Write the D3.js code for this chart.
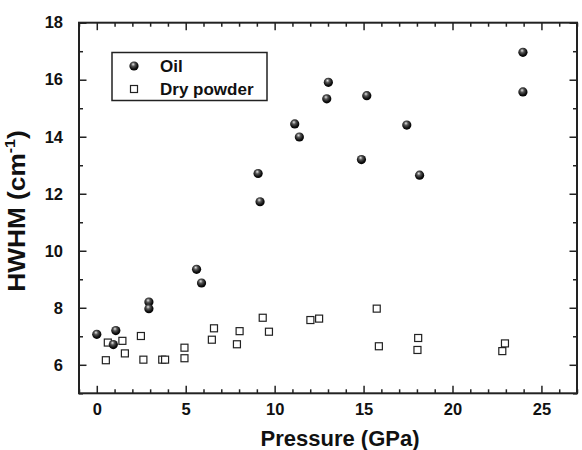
<!DOCTYPE html>
<html><head><meta charset="utf-8">
<script src="https://cdn.jsdelivr.net/npm/d3@7"></script>
<style>body{margin:0;background:#fff}svg{display:block}text{font-family:"Liberation Sans",Arial,Helvetica,sans-serif;font-weight:bold;fill:#111}</style>
</head><body>
<svg id="c" width="582" height="450"></svg>
<script>
// Oil series
const oilP = [0.0, 1.07, 0.93, 2.93, 2.93, 5.61, 5.89, 9.18, 9.07, 11.13, 11.39, 13.02, 12.93, 15.18, 14.88, 17.43, 18.15, 23.96, 23.96];
const oilW = [7.07, 7.20, 6.71, 8.20, 7.97, 9.35, 8.87, 11.72, 12.71, 14.45, 13.99, 15.91, 15.33, 15.44, 13.20, 14.41, 12.65, 16.96, 15.57];
// Dry powder series
const dryP = [0.51, 0.62, 1.44, 1.58, 2.48, 2.62, 3.68, 3.84, 4.93, 4.93, 6.59, 6.47, 8.03, 7.88, 9.33, 9.68, 12.01, 12.5, 15.74, 15.86, 18.07, 18.03, 22.95, 22.8];
const dryW = [6.16, 6.78, 6.84, 6.40, 7.01, 6.18, 6.18, 6.18, 6.23, 6.60, 7.28, 6.88, 7.18, 6.72, 7.65, 7.16, 7.57, 7.62, 7.97, 6.65, 6.94, 6.52, 6.75, 6.48];
const xTicks = [0, 5, 10, 15, 20, 25];
const yTicks = [6, 8, 10, 12, 14, 16, 18];
const seriesNames = ["Oil", "Dry powder"];

const svg = d3.select("#c");
const L = 79, R = 577, T = 22.7, B = 393.3;
const x = d3.scaleLinear().domain([-1, 27]).range([L, R]);
const y = d3.scaleLinear().domain([5, 18]).range([B, T]);

const defs = svg.append("defs");
const g = defs.append("radialGradient").attr("id", "ball").attr("cx", "45%").attr("cy", "40%").attr("r", "60%").attr("fx", "40%").attr("fy", "30%");
g.append("stop").attr("offset", "0%").attr("stop-color", "#e8e8e8");
g.append("stop").attr("offset", "35%").attr("stop-color", "#555");
g.append("stop").attr("offset", "75%").attr("stop-color", "#111");
g.append("stop").attr("offset", "100%").attr("stop-color", "#000");

const ax = "#222";
const minorX = d3.range(-1, 28, 1);
const minorY = d3.range(5, 19, 1);
function addAxis(axisGen, tx, ty) {
  return svg.append("g").attr("transform", `translate(${tx},${ty})`).call(axisGen);
}
addAxis(d3.axisTop(x).tickValues(minorX.filter(v => v % 5 !== 0)).tickSize(4).tickFormat(""), 0, B);
addAxis(d3.axisTop(x).tickValues(xTicks).tickSize(7.5).tickFormat(""), 0, B);
addAxis(d3.axisBottom(x).tickValues(minorX.filter(v => v % 5 !== 0)).tickSize(4).tickFormat(""), 0, T);
addAxis(d3.axisBottom(x).tickValues(xTicks).tickSize(7.5).tickFormat(""), 0, T);
addAxis(d3.axisRight(y).tickValues(minorY.filter(v => v % 2 !== 0)).tickSize(4).tickFormat(""), L, 0);
addAxis(d3.axisRight(y).tickValues(yTicks).tickSize(7.5).tickFormat(""), L, 0);
addAxis(d3.axisLeft(y).tickValues(minorY.filter(v => v % 2 !== 0)).tickSize(4).tickFormat(""), R, 0);
addAxis(d3.axisLeft(y).tickValues(yTicks).tickSize(7.5).tickFormat(""), R, 0);
svg.selectAll(".domain").remove();
svg.selectAll(".tick line").attr("stroke", ax).attr("stroke-width", 1.5);
svg.append("rect").attr("x", L).attr("y", T).attr("width", R - L).attr("height", B - T)
  .attr("fill", "none").attr("stroke", ax).attr("stroke-width", 2);

// tick labels
const xl = addAxis(d3.axisBottom(x).tickValues(xTicks).tickSize(0).tickPadding(10), 0, B);
xl.select(".domain").remove();
xl.selectAll("text").attr("font-size", 16.5).attr("fill", "#111").style("font-family", "'Liberation Sans',Arial,sans-serif").style("font-weight", "bold");
const yl = addAxis(d3.axisLeft(y).tickValues(yTicks).tickSize(0).tickPadding(16), L, 0);
yl.select(".domain").remove();
yl.selectAll("text").attr("font-size", 16.5).attr("fill", "#111").style("font-family", "'Liberation Sans',Arial,sans-serif").style("font-weight", "bold");

// axis titles
svg.append("text").attr("x", 340).attr("y", 446).attr("text-anchor", "middle").attr("font-size", 22).text("Pressure (GPa)");
const yt = svg.append("text").attr("transform", `translate(25,211) rotate(-90) scale(1.14,1)`).attr("text-anchor", "middle").attr("font-size", 23);
yt.append("tspan").text("HWHM (cm");
yt.append("tspan").attr("font-size", 14).attr("dy", -10).text("-1");
yt.append("tspan").attr("dy", 10).text(")");

// data marks
svg.append("g").selectAll("rect").data(dryP.map((p, i) => [p, dryW[i]])).join("rect")
  .attr("x", d => x(d[0]) - 3.5).attr("y", d => y(d[1]) - 3.5).attr("width", 7).attr("height", 7)
  .attr("fill", "#fff").attr("stroke", "#222").attr("stroke-width", 1.2);
svg.append("g").selectAll("circle").data(oilP.map((p, i) => [p, oilW[i]])).join("circle")
  .attr("cx", d => x(d[0])).attr("cy", d => y(d[1])).attr("r", 4.6).attr("fill", "url(#ball)");

// legend
const lg = svg.append("g");
lg.append("rect").attr("x", 112).attr("y", 52.5).attr("width", 155).attr("height", 48).attr("fill", "#fff").attr("stroke", ax).attr("stroke-width", 1.5);
lg.append("circle").attr("cx", 134).attr("cy", 66).attr("r", 4.6).attr("fill", "url(#ball)");
lg.append("rect").attr("x", 130.5).attr("y", 85.5).attr("width", 7).attr("height", 7).attr("fill", "#fff").attr("stroke", "#222").attr("stroke-width", 1.2);
lg.append("text").attr("x", 160).attr("y", 72).attr("font-size", 17).text(seriesNames[0]);
lg.append("text").attr("x", 160).attr("y", 95).attr("font-size", 17).text(seriesNames[1]);
</script>
</body></html>
